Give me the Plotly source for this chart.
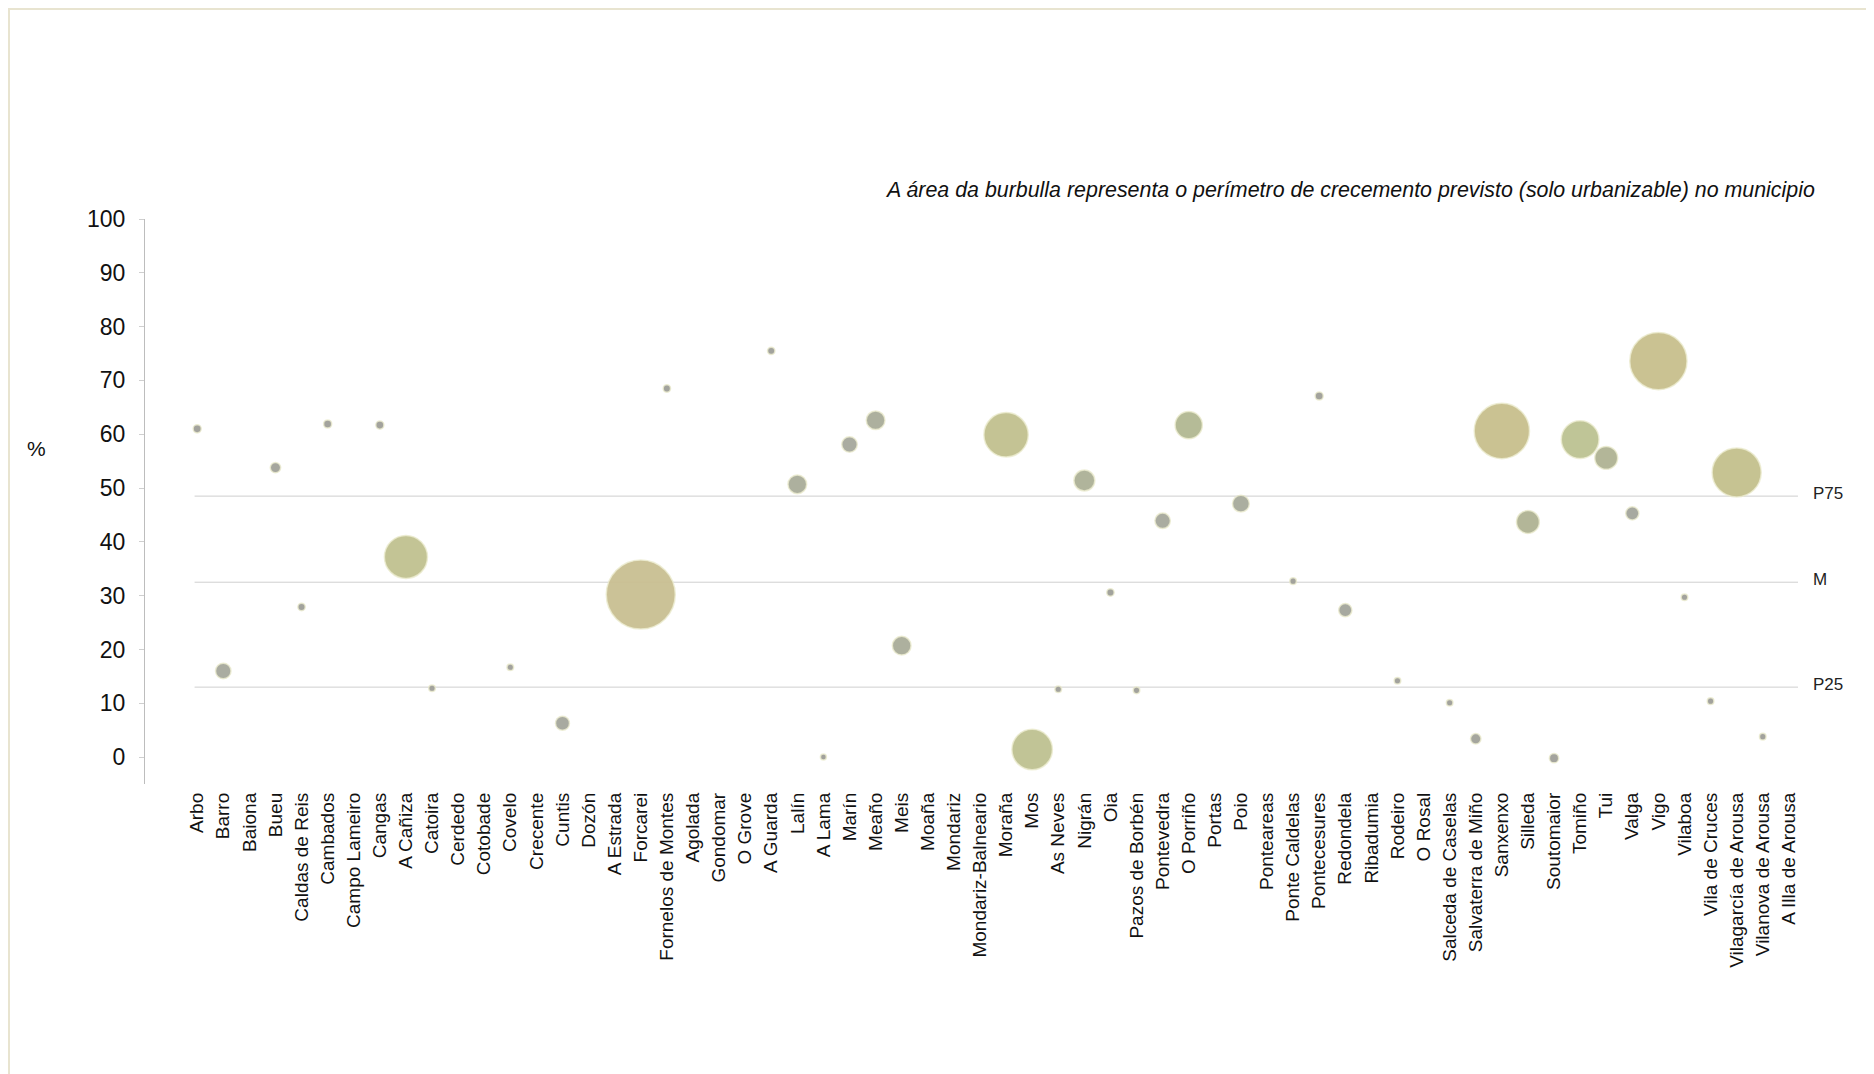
import plotly.graph_objects as go

municipios = ["Arbo", "Barro", "Baiona", "Bueu", "Caldas de Reis", "Cambados", "Campo Lameiro",
              "Cangas", "A Cañiza", "Catoira", "Cerdedo", "Cotobade", "Covelo", "Crecente",
              "Cuntis", "Dozón", "A Estrada", "Forcarei", "Fornelos de Montes", "Agolada",
              "Gondomar", "O Grove", "A Guarda", "Lalín", "A Lama", "Marín", "Meaño", "Meis",
              "Moaña", "Mondariz", "Mondariz-Balneario", "Moraña", "Mos", "As Neves", "Nigrán",
              "Oia", "Pazos de Borbén", "Pontevedra", "O Porriño", "Portas", "Poio", "Ponteareas",
              "Ponte Caldelas", "Pontecesures", "Redondela", "Ribadumia", "Rodeiro", "O Rosal",
              "Salceda de Caselas", "Salvaterra de Miño", "Sanxenxo", "Silleda", "Soutomaior",
              "Tomiño", "Tui", "Valga", "Vigo", "Vilaboa", "Vila de Cruces",
              "Vilagarcía de Arousa", "Vilanova de Arousa", "A Illa de Arousa"]

N = None
porcentaxe = [61.0, 16.0, N, 53.8, 27.9, 61.9, N,
              61.7, 37.2, 12.8, N, N, 16.7, N,
              6.3, N, N, 30.2, 68.5, N,
              N, N, 75.5, 50.7, 0.0, 58.1, 62.6, 20.7,
              N, N, N, 59.9, 1.4, 12.6, 51.4,
              30.6, 12.4, 43.9, 61.7, N, 47.1, N,
              32.7, 67.1, 27.3, N, 14.2, N,
              10.1, 3.4, 60.6, 43.7, -0.2,
              59.0, 55.6, 45.3, 73.6, 29.7, 10.4,
              52.9, 3.8, N]

solo_urbanizable = [3, 11, N, 5, 2.5, 3, N,
                    3, 85, 2, N, N, 2, N,
                    9, N, N, 218, 2.5, N,
                    N, N, 2.5, 16, 0.8, 11, 16, 16,
                    N, N, N, 90, 75, 2, 20,
                    2.5, 2, 11, 34, N, 13, N,
                    2, 3, 8, N, 2, N,
                    2, 5, 140, 24, 4,
                    65, 24, 8, 150, 2, 2,
                    110, 2, N]

referencias = ["P75", "M", "P25"]
valores_ref = [48.5, 32.5, 13.0]

nota = "A área da burbulla representa o perímetro de crecemento previsto (solo urbanizable) no municipio"

# page body has an 8px margin, so the figure is offset by OFF px
OFF = 8
W, H = 1874 - OFF, 1074 - OFF
ML, MR, MT, MB = 145 - OFF, 46, 219 - OFF, 298 - OFF

xs, ys, ss = [], [], []
for m, p, s in zip(municipios, porcentaxe, solo_urbanizable):
    if p is not None and s is not None:
        xs.append(m); ys.append(p); ss.append(s)

max_d = 69
sizeref = 2.0 * max(ss) / (max_d ** 2)

fig = go.Figure()
fig.add_trace(go.Scatter(
    x=xs, y=ys, mode="markers",
    marker=dict(size=ss, sizemode="area", sizeref=sizeref, sizemin=3,
                color=ss, cmin=0, cmax=max(ss),
                colorscale=[[0, "#9c9c97"], [0.05, "#a6a89c"], [0.12, "#b0b592"],
                            [0.3, "#bcc292"], [0.45, "#c2c08e"], [0.6, "#c8bf8c"], [1, "#c9bf92"]],
                opacity=0.95,
                line=dict(width=1.5, color="rgba(235,235,205,0.8)")),
    showlegend=False, hoverinfo="x+y"))

narrow = "Liberation Sans Narrow, Arial Narrow, Liberation Sans, Arial, sans-serif"

shapes = []
for v in valores_ref:
    shapes.append(dict(type="line", xref="x", yref="y", x0=-0.1, x1=61.35, y0=v, y1=v,
                       line=dict(color="#cfcfcf", width=1), layer="below"))

pw = W - ML - MR
ph = H - MT - MB
def px_x(p):
    return (p - OFF - ML) / pw
def px_y(p):
    return (H - MB - (p - OFF)) / ph

# light frame around the picture (left and top edges visible)
shapes.append(dict(type="rect", xref="paper", yref="paper",
                   x0=px_x(OFF + 1), x1=px_x(1900), y0=px_y(OFF + 1), y1=px_y(1100),
                   line=dict(color="#e8e4d0", width=2), layer="below"))

annotations = []
for r, v in zip(referencias, valores_ref):
    annotations.append(dict(x=px_x(1811), xref="paper", y=v, yref="y", text=r,
                            showarrow=False, xanchor="left", yanchor="middle", yshift=3,
                            font=dict(family=narrow, size=17, color="#222")))
annotations.append(dict(x=px_x(1817), xref="paper", y=px_y(190), yref="paper", text="<i>" + nota + "</i>",
                        showarrow=False, xanchor="right", yanchor="middle",
                        font=dict(family=narrow, size=21.4, color="#111")))
annotations.append(dict(x=px_x(36), xref="paper", y=px_y(448), yref="paper", text="%",
                        showarrow=False, xanchor="center", yanchor="middle",
                        font=dict(family=narrow, size=21, color="#111")))

fig.update_layout(
    width=W, height=H,
    margin=dict(l=ML, r=MR, t=MT, b=MB),
    paper_bgcolor="white", plot_bgcolor="white",
    shapes=shapes, annotations=annotations,
    xaxis=dict(type="category", categoryorder="array", categoryarray=municipios,
               tickmode="array", tickvals=municipios, ticktext=municipios,
               range=[-2.0, 62.5], tickangle=-90, showgrid=False, zeroline=False,
               showline=False, ticks="", ticklabelstandoff=4,
               tickfont=dict(family="Liberation Sans, Arial, sans-serif", size=19, color="#111")),
    yaxis=dict(range=[-5, 100], tickvals=[0, 10, 20, 30, 40, 50, 60, 70, 80, 90, 100],
               showgrid=False, zeroline=False, showline=True, linecolor="#bdbdbd", linewidth=1,
               ticks="outside", ticklen=5, tickcolor="#cfcfcf", ticklabelstandoff=9,
               tickfont=dict(family=narrow, size=23, color="#111")),
)

fig.write_html("out.html")
